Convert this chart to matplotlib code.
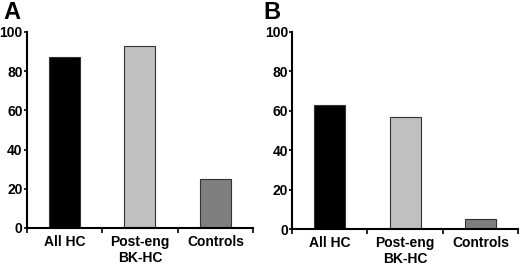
import matplotlib.pyplot as plt
from matplotlib.ticker import FixedLocator

plt.rcParams['font.family'] = ['Liberation Sans', 'DejaVu Sans']
plt.rcParams['font.weight'] = 'bold'

# data
categories = ['All HC', 'Post-eng\nBK-HC', 'Controls']
panel_a = [87, 93, 25]
panel_b = [63, 57, 5]
colors = ['#000000', '#c0c0c0', '#7f7f7f']

fig = plt.figure(figsize=(5.2, 2.66), dpi=100)
ax_a = fig.add_axes([0.051, 0.143, 0.436, 0.737])
ax_b = fig.add_axes([0.5615, 0.139, 0.435, 0.741])

for ax, values in [(ax_a, panel_a), (ax_b, panel_b)]:
    ax.bar(range(3), values, width=0.41, color=colors, edgecolor='#333333', linewidth=0.8)
    ax.set_xlim(-0.5, 2.5)
    ax.set_ylim(0, 100)
    ax.set_yticks([0, 20, 40, 60, 80, 100])
    ax.set_xticks(range(3))
    ax.set_xticklabels(categories, fontsize=10, fontweight='bold')
    ax.xaxis.set_minor_locator(FixedLocator([-0.5, 0.5, 1.5, 2.5]))
    ax.tick_params(axis='x', which='major', length=0, pad=5)
    ax.tick_params(axis='x', which='minor', length=3.6, width=1.2, direction='out')
    ax.tick_params(axis='y', length=2.5, width=1.2, labelsize=10, pad=0.3)
    for t in ax.get_yticklabels():
        t.set_fontweight('bold')
    for s in ['top', 'right']:
        ax.spines[s].set_visible(False)
    for s in ['left', 'bottom']:
        ax.spines[s].set_linewidth(1.5)

fig.text(3 / 520, 1 - 1 / 266, 'A', fontsize=17, fontweight='bold', va='top', ha='left')
fig.text(263 / 520, 1 - 1 / 266, 'B', fontsize=17, fontweight='bold', va='top', ha='left')

fig.savefig('out.png', dpi=100)
